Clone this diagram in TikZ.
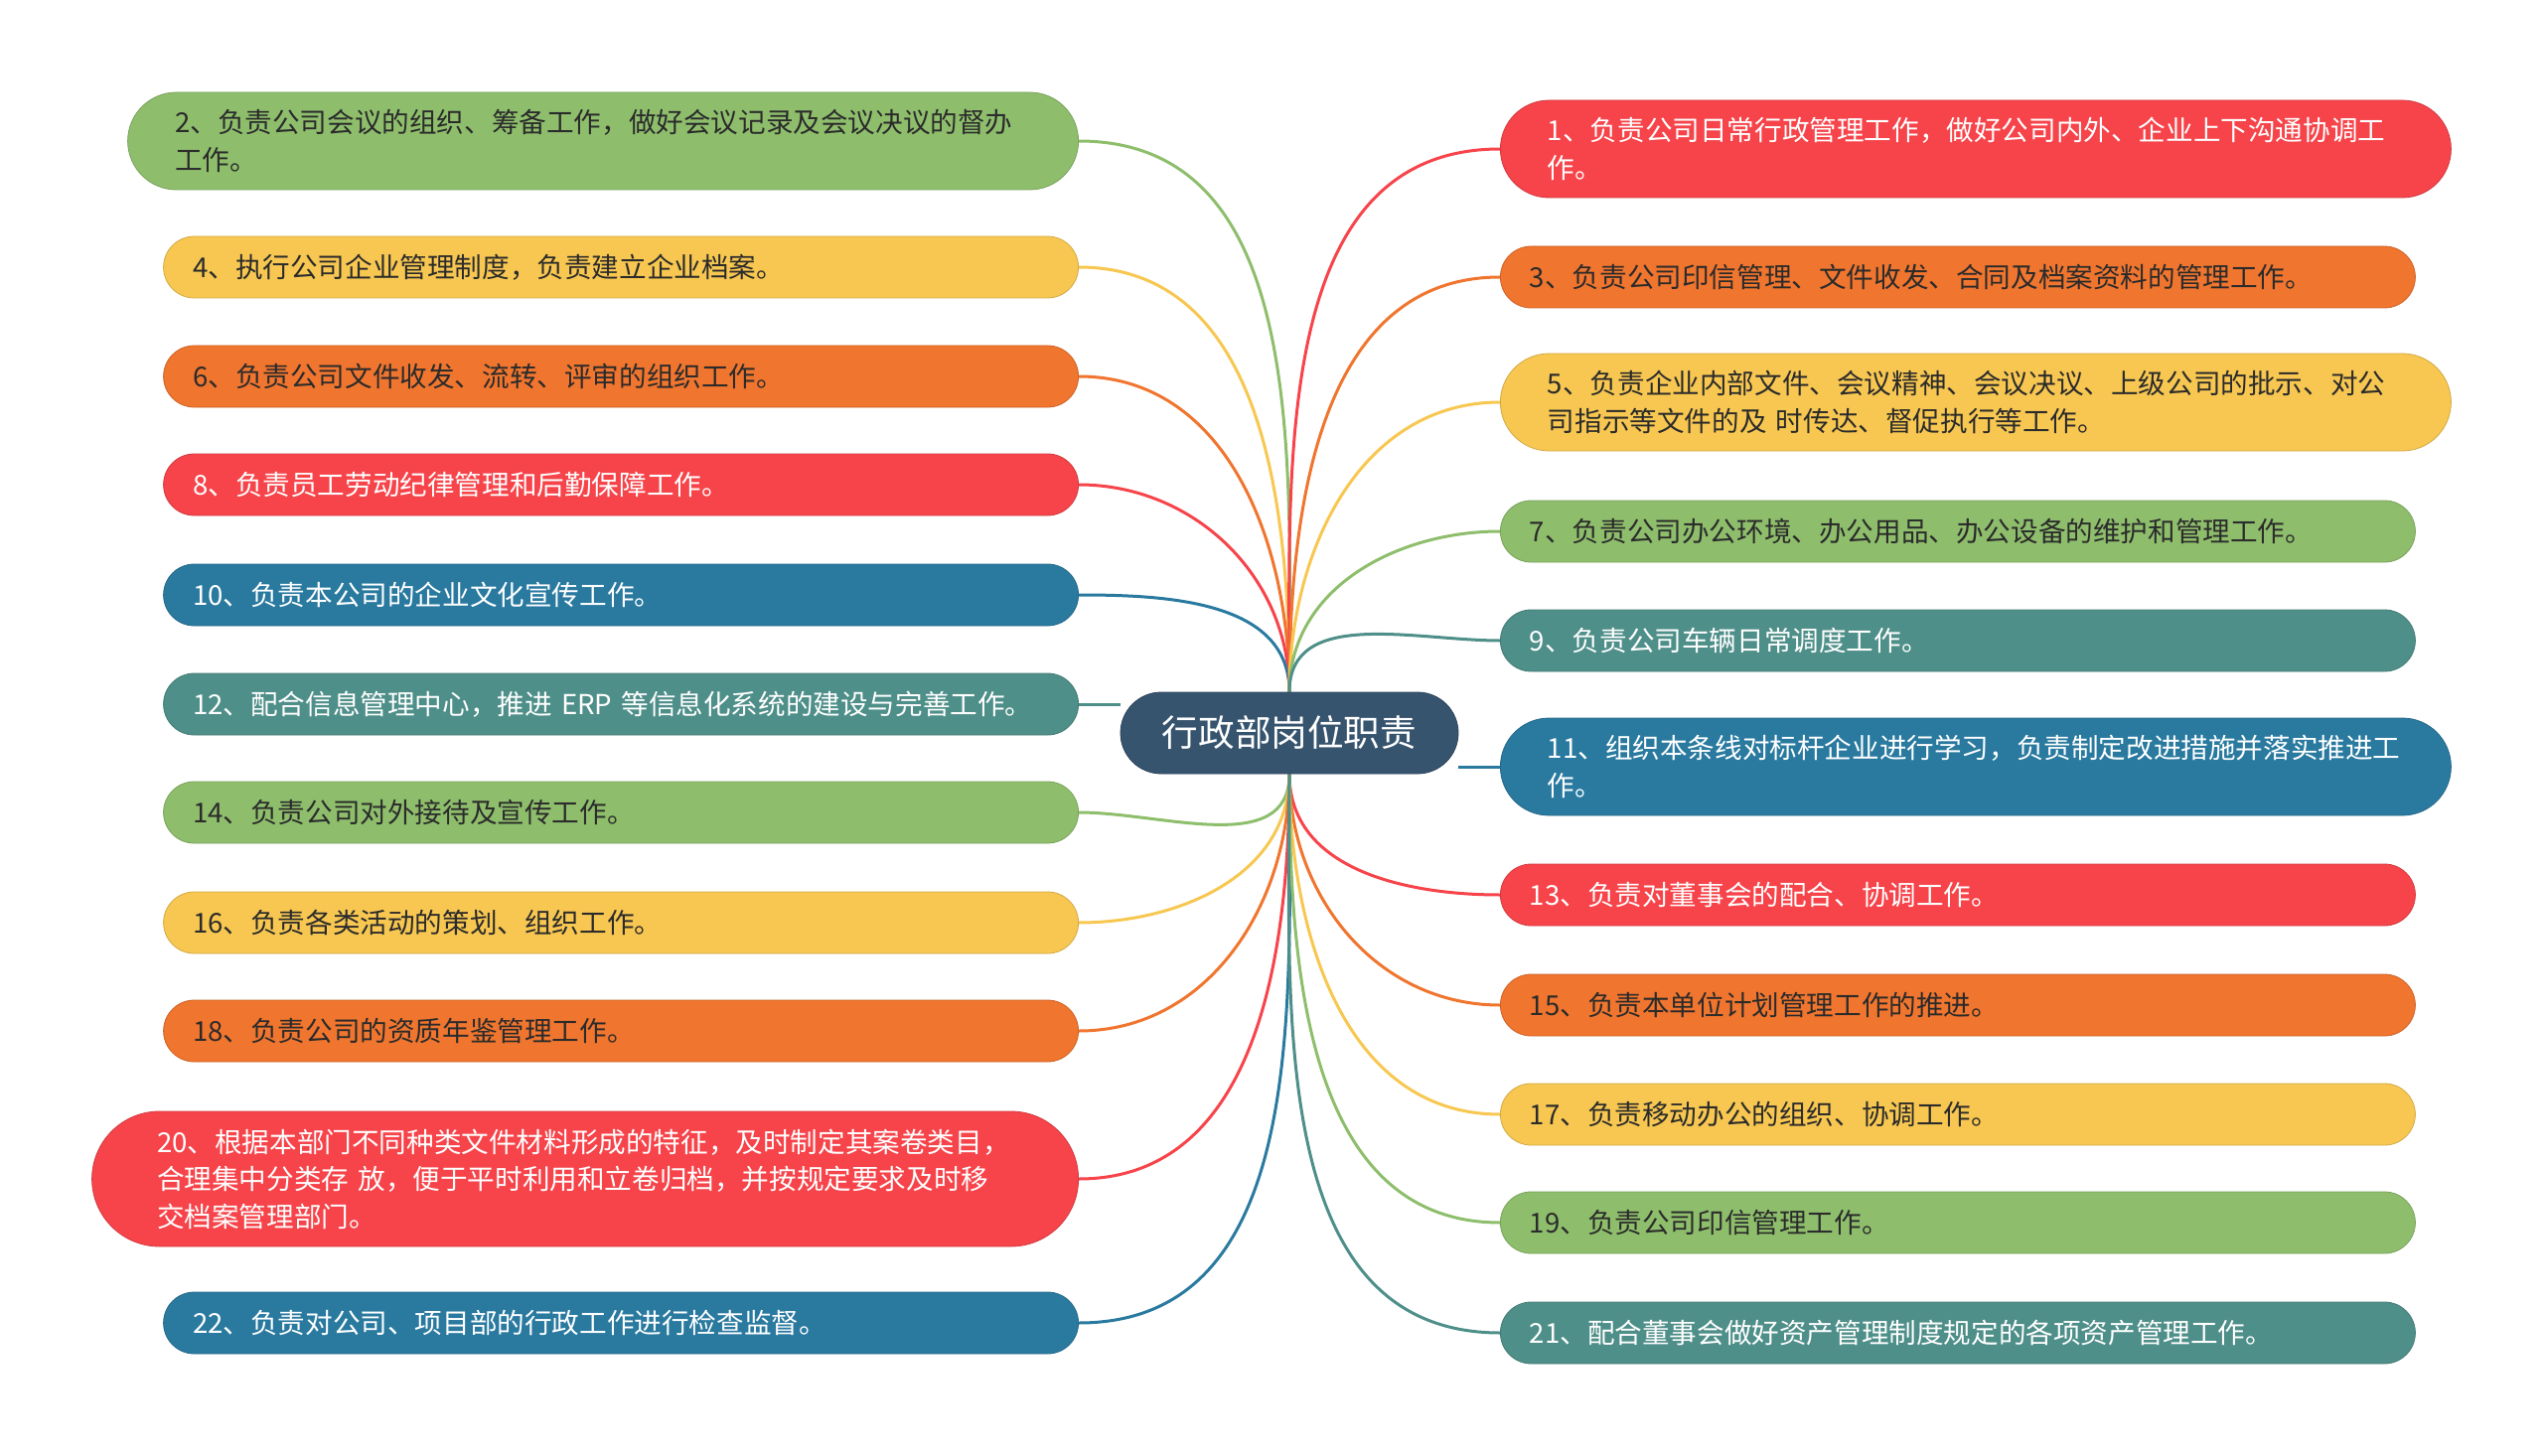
\documentclass[tikz,border=0pt]{standalone}
\usepackage{fontspec}
\setmainfont{Noto Sans CJK SC}
\usepackage{tikz}
\usetikzlibrary{backgrounds}
\definecolor{mapred}{HTML}{F6444A}
\definecolor{maporange}{HTML}{F0752E}
\definecolor{mapyellow}{HTML}{F7C751}
\definecolor{mapgreen}{HTML}{8EBE6C}
\definecolor{mapblue}{HTML}{2A7AA0}
\definecolor{mapteal}{HTML}{4F8F89}
\definecolor{maproot}{HTML}{37546F}
\definecolor{darktext}{HTML}{2B2B2B}
\tikzset{
  leaf/.style={rounded corners=15.5pt, minimum height=31pt, text width=431pt, inner xsep=14.75pt, align=left, font=\fontsize{13.8}{18.75}\selectfont},
  twoline/.style={rounded corners=24.5pt, minimum height=49pt, inner xsep=23.75pt},
  threeline/.style={rounded corners=34pt, minimum height=68pt, inner xsep=32.75pt},
  redleaf/.style={leaf, fill=mapred, draw=mapred!85!black, text=white},
  orangeleaf/.style={leaf, fill=maporange, draw=maporange!85!black, text=darktext},
  yellowleaf/.style={leaf, fill=mapyellow, draw=mapyellow!85!black, text=darktext},
  greenleaf/.style={leaf, fill=mapgreen, draw=mapgreen!85!black, text=darktext},
  blueleaf/.style={leaf, fill=mapblue, draw=mapblue!85!black, text=white},
  tealleaf/.style={leaf, fill=mapteal, draw=mapteal!85!black, text=white},
  root/.style={rounded corners=20.5pt, fill=maproot, draw=maproot!80!black, minimum width=170pt, minimum height=41pt, text=white, font=\fontsize{18.3}{22}\selectfont},
  link/.style={line width=1.5pt, draw=#1}
}

\begin{document}
\begin{tikzpicture}[x=0.5pt, y=-0.5pt]
  \useasboundingbox (0,0) rectangle (2560,1466);

  \node[root] (root) at (1298,738) {行政部岗位职责};

  % left side
  \node[greenleaf, twoline, anchor=east] (meeting) at (1086,142) {2、负责公司会议的组织、筹备工作，做好会议记录及会议决议的督办\\工作。};
  \node[yellowleaf, anchor=east] (system) at (1086,269) {4、执行公司企业管理制度，负责建立企业档案。};
  \node[orangeleaf, anchor=east] (filing) at (1086,379) {6、负责公司文件收发、流转、评审的组织工作。};
  \node[redleaf, anchor=east] (discipline) at (1086,488) {8、负责员工劳动纪律管理和后勤保障工作。};
  \node[blueleaf, anchor=east] (culture) at (1086,599) {10、负责本公司的企业文化宣传工作。};
  \node[tealleaf, anchor=east] (erp) at (1086,709) {12、配合信息管理中心，推进 ERP 等信息化系统的建设与完善工作。};
  \node[greenleaf, anchor=east] (reception) at (1086,818) {14、负责公司对外接待及宣传工作。};
  \node[yellowleaf, anchor=east] (events) at (1086,929) {16、负责各类活动的策划、组织工作。};
  \node[orangeleaf, anchor=east] (qualify) at (1086,1038) {18、负责公司的资质年鉴管理工作。};
  \node[redleaf, threeline, anchor=east] (archive) at (1086,1187) {20、根据本部门不同种类文件材料形成的特征，及时制定其案卷类目，\\合理集中分类存 放，便于平时利用和立卷归档，并按规定要求及时移\\交档案管理部门。};
  \node[blueleaf, anchor=east] (inspect) at (1086,1332) {22、负责对公司、项目部的行政工作进行检查监督。};

  % right side
  \node[redleaf, twoline, anchor=west] (daily) at (1510,150) {1、负责公司日常行政管理工作，做好公司内外、企业上下沟通协调工\\作。};
  \node[orangeleaf, anchor=west] (seal) at (1510,279) {3、负责公司印信管理、文件收发、合同及档案资料的管理工作。};
  \node[yellowleaf, twoline, anchor=west] (relay) at (1510,405) {5、负责企业内部文件、会议精神、会议决议、上级公司的批示、对公\\司指示等文件的及 时传达、督促执行等工作。};
  \node[greenleaf, anchor=west] (office) at (1510,535) {7、负责公司办公环境、办公用品、办公设备的维护和管理工作。};
  \node[tealleaf, anchor=west] (vehicle) at (1510,645) {9、负责公司车辆日常调度工作。};
  \node[blueleaf, twoline, anchor=west] (benchmark) at (1510,772) {11、组织本条线对标杆企业进行学习，负责制定改进措施并落实推进工\\作。};
  \node[redleaf, anchor=west] (board) at (1510,901) {13、负责对董事会的配合、协调工作。};
  \node[orangeleaf, anchor=west] (plan) at (1510,1012) {15、负责本单位计划管理工作的推进。};
  \node[yellowleaf, anchor=west] (mobile) at (1510,1122) {17、负责移动办公的组织、协调工作。};
  \node[greenleaf, anchor=west] (stamp) at (1510,1231) {19、负责公司印信管理工作。};
  \node[tealleaf, anchor=west] (assets) at (1510,1342) {21、配合董事会做好资产管理制度规定的各项资产管理工作。};

  \begin{scope}[on background layer]
    \draw[link=mapgreen] (root.north) to[out=90, in=0] (meeting.east);
    \draw[link=mapyellow] (root.north) to[out=90, in=0] (system.east);
    \draw[link=maporange] (root.north) to[out=90, in=0] (filing.east);
    \draw[link=mapred] (root.north) to[out=90, in=0] (discipline.east);
    \draw[link=mapblue] (root.north) to[out=90, in=0] (culture.east);
    \draw[link=mapteal] (erp.east) -- (erp.east -| root.west);
    \draw[link=mapgreen] (root.south) to[out=-90, in=0] (reception.east);
    \draw[link=mapyellow] (root.south) to[out=-90, in=0] (events.east);
    \draw[link=maporange] (root.south) to[out=-90, in=0] (qualify.east);
    \draw[link=mapred] (root.south) to[out=-90, in=0] (archive.east);
    \draw[link=mapblue] (root.south) to[out=-90, in=0] (inspect.east);

    \draw[link=mapred] (root.north) to[out=90, in=180] (daily.west);
    \draw[link=maporange] (root.north) to[out=90, in=180] (seal.west);
    \draw[link=mapyellow] (root.north) to[out=90, in=180] (relay.west);
    \draw[link=mapgreen] (root.north) to[out=90, in=180] (office.west);
    \draw[link=mapteal] (root.north) to[out=90, in=180] (vehicle.west);
    \draw[link=mapblue] (benchmark.west) -- (benchmark.west -| root.east);
    \draw[link=mapred] (root.south) to[out=-90, in=180] (board.west);
    \draw[link=maporange] (root.south) to[out=-90, in=180] (plan.west);
    \draw[link=mapyellow] (root.south) to[out=-90, in=180] (mobile.west);
    \draw[link=mapgreen] (root.south) to[out=-90, in=180] (stamp.west);
    \draw[link=mapteal] (root.south) to[out=-90, in=180] (assets.west);
  \end{scope}
\end{tikzpicture}
\end{document}
